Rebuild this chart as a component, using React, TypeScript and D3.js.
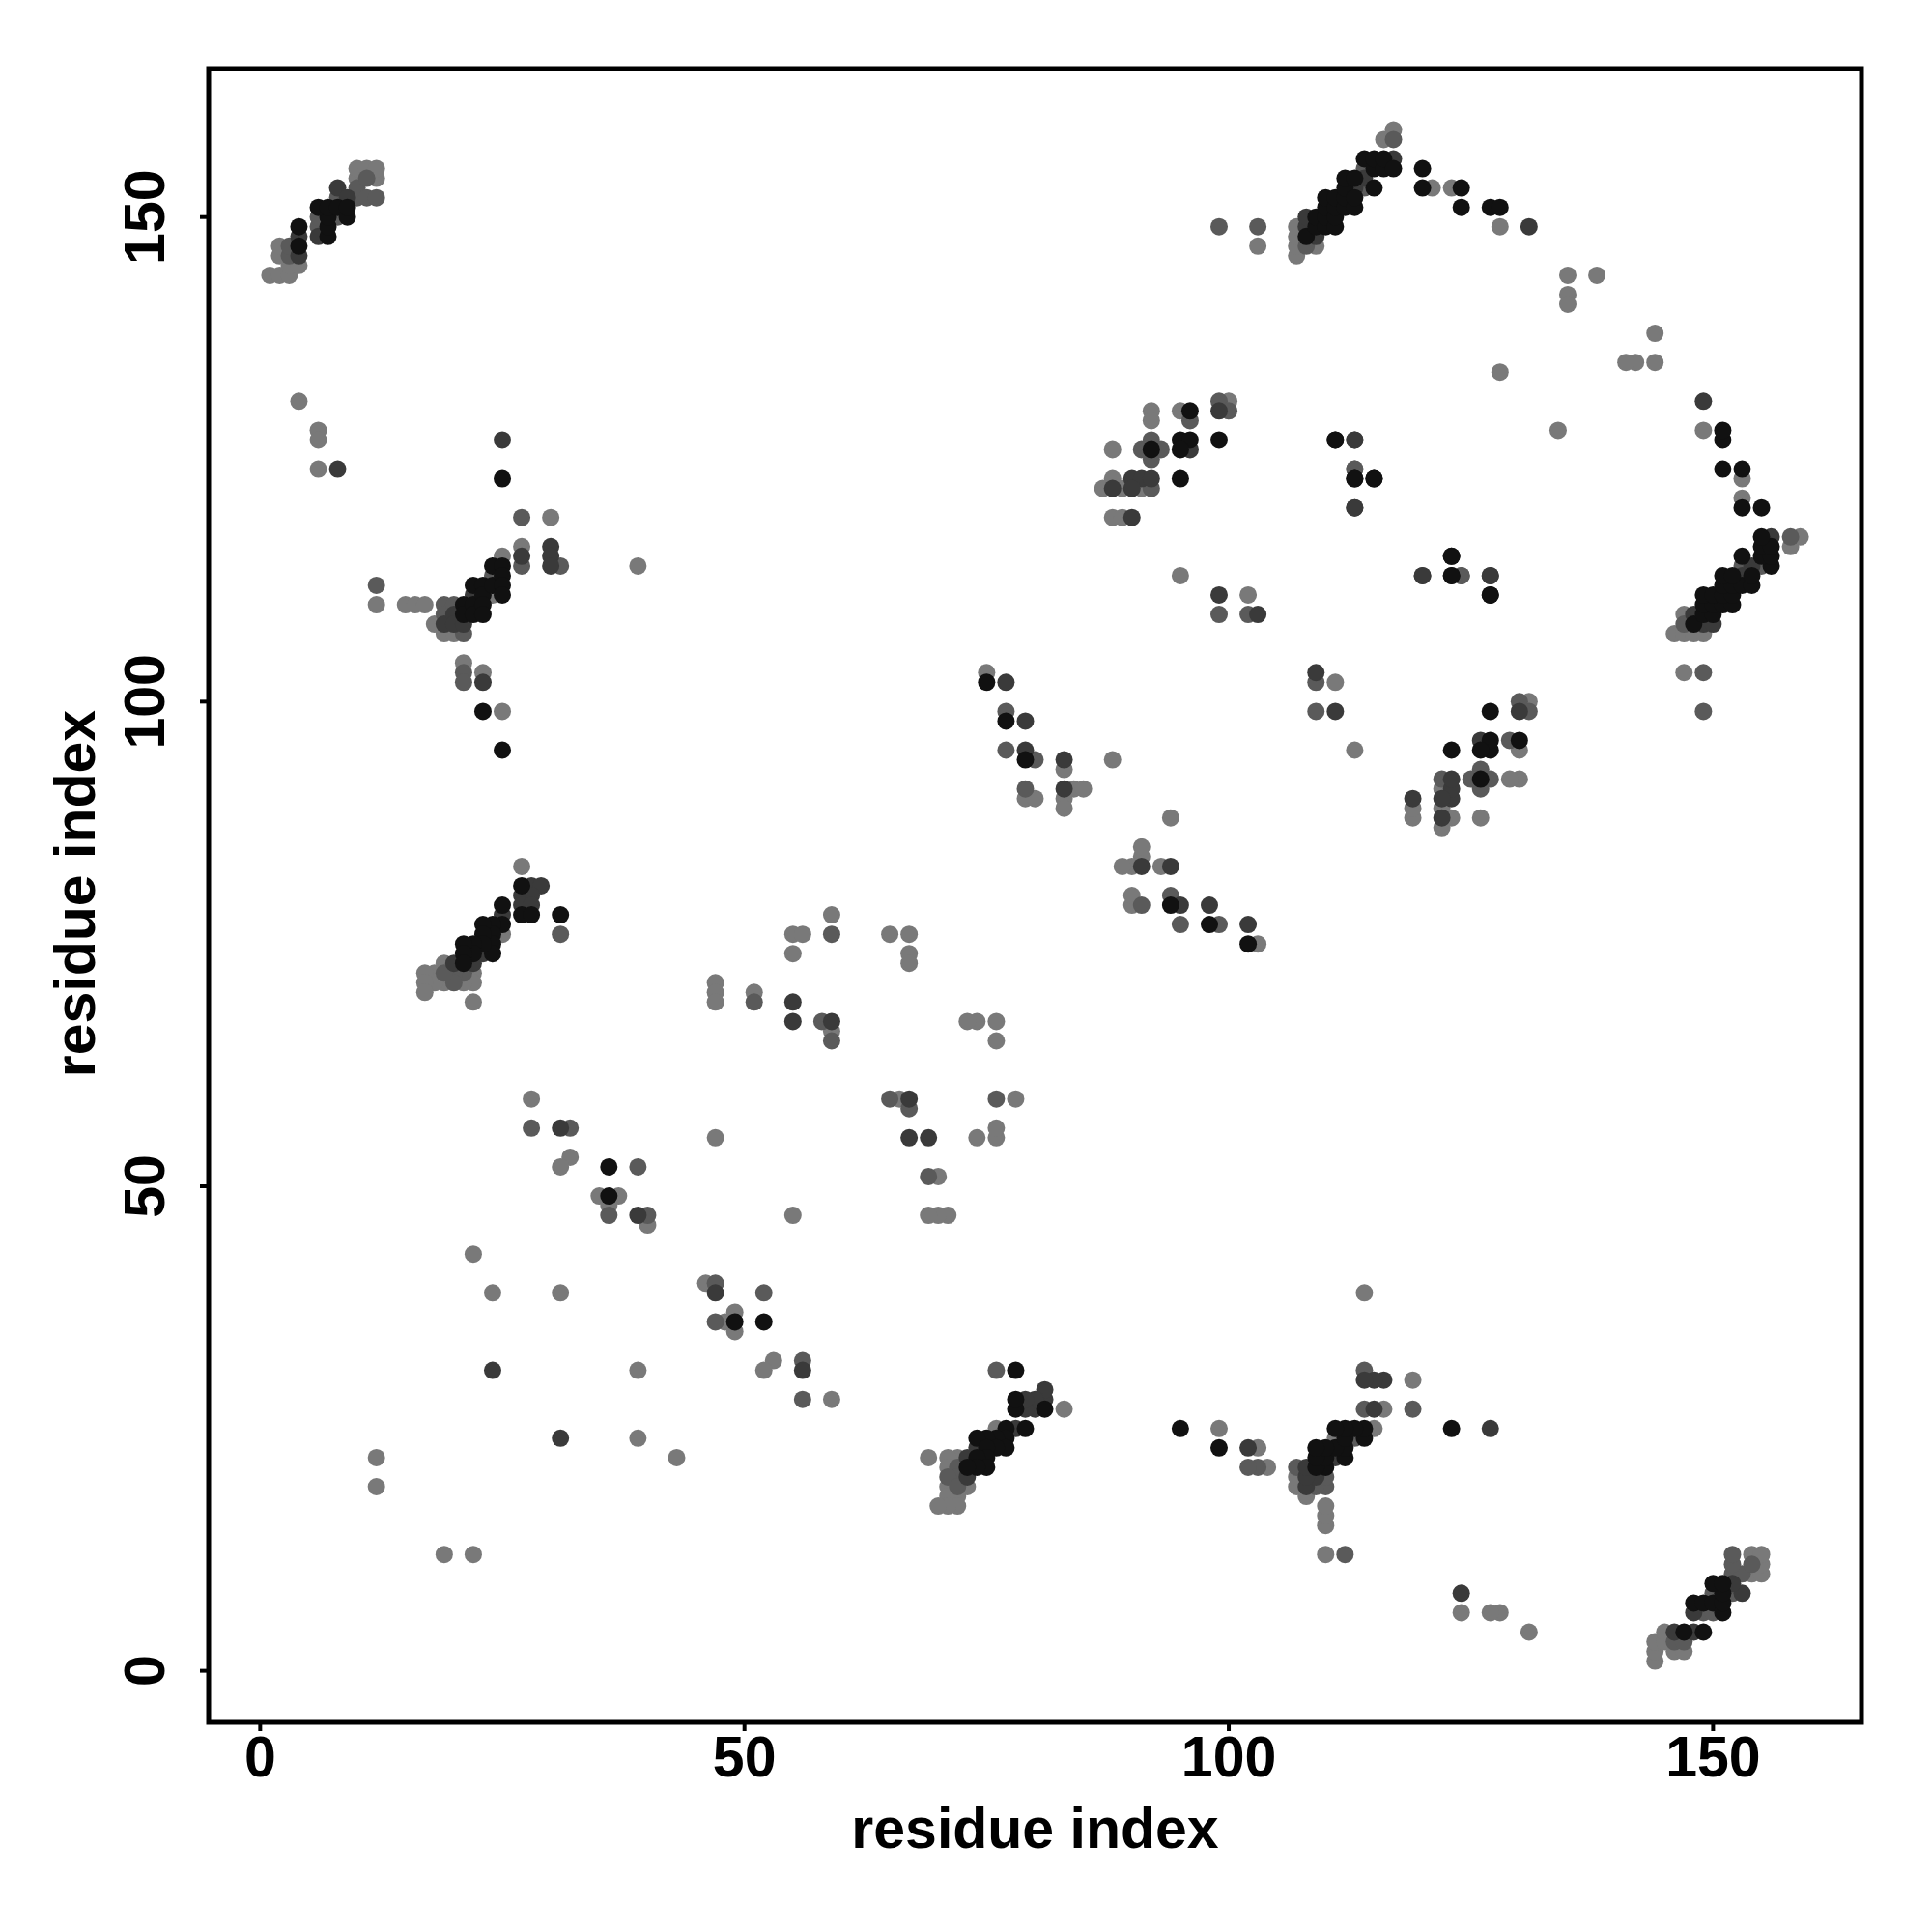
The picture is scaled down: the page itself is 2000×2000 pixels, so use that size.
import React from "react";
import * as d3 from "d3";

// Contact pairs [i, j, level] with i < j (the map is symmetric; level 1 = darkest)
const clusterTopLeft: [number, number, number][] = [
  [1,144,4],[2,144,4],[3,144,4],[3,145,4],[4,145,4],
  [2,146,4],[3,146,3],[4,146,2],[2,147,4],[3,147,3],[4,147,1],
  [4,148,2],[4,149,1],
  [6,148,2],[7,148,1],[6,149,3],[7,149,1],[6,150,3],[7,150,1],[6,151,1],[7,151,1],
  [8,150,3],[8,151,1],[8,152,3],[8,153,2],
  [9,150,1],[9,151,1],[9,152,2],
  [10,152,3],[10,153,3],[10,154,4],[10,155,4],
  [11,152,3],[11,154,3],[11,155,4],
  [12,152,3],[12,154,4],[12,155,4],
  [4,131,4],[6,128,4],[6,127,4],[6,124,4],[8,124,2],
];
const clusterB: [number, number, number][] = [
  [12,112,3],[12,110,4],[15,110,4],[16,110,4],[17,110,4],[18,108,4],
  [19,110,3],[19,109,3],[19,108,2],[19,107,4],
  [20,110,3],[20,109,2],[20,108,2],[20,107,4],
  [21,110,1],[21,109,1],[21,108,2],[21,107,3],
  [22,112,1],[22,111,2],[22,110,1],[22,109,1],
  [23,112,1],[23,111,1],[23,110,1],[23,109,1],
  [24,114,1],[24,113,3],[24,112,1],[24,111,4],
  [25,115,4],[25,114,1],[25,113,1],[25,112,1],[25,111,1],
  [21,104,4],[21,103,3],[21,102,3],[23,103,4],[23,102,2],
  [23,99,1],[25,99,4],[25,95,1],
  [27,119,3],[30,119,4],[27,116,4],[27,115,2],[27,114,3],
  [30,116,2],[30,115,2],[30,114,2],[31,114,3],[39,114,4],
  [25,127,2],[25,123,1],
];
const clusterC: [number, number, number][] = [
  [27,83,4],[27,81,1],[28,81,2],[29,81,2],[27,80,2],[28,80,2],[27,79,2],[28,79,2],
  [27,78,1],[28,78,1],[31,78,1],[31,76,3],
  [25,79,1],[25,78,2],[25,77,1],[25,76,4],
  [24,77,1],[24,76,1],[24,75,1],[24,74,1],
  [23,77,1],[23,76,1],[23,75,1],[23,74,2],
  [22,75,1],[22,74,1],[22,73,2],[22,72,4],[22,71,4],
  [21,75,1],[21,74,1],[21,73,1],[21,72,3],[21,71,4],
  [20,73,2],[20,72,3],[20,71,3],
  [19,73,4],[19,72,3],[19,71,4],
  [18,72,4],[18,71,4],[17,72,4],[17,71,4],[17,70,4],
  [22,69,4],
];
const clusterD: [number, number, number][] = [
  [28,59,4],[28,56,3],[31,56,2],[32,56,3],[32,53,4],[31,52,4],
  [36,52,1],[39,52,3],[35,49,4],[36,49,1],[37,49,4],[36,48,4],[36,47,3],
  [39,47,2],[40,47,3],[40,46,4],
  [12,22,4],[12,19,4],[22,43,4],[24,39,4],[24,31,2],[31,39,4],
];
const clusterE: [number, number, number][] = [
  [47,55,4],[47,71,4],[47,70,4],[47,69,4],[51,70,4],[51,69,3],
  [55,69,2],[55,67,2],[58,67,3],[59,67,2],[59,66,4],[59,65,3],
  [55,76,4],[56,76,4],[59,76,3],[59,78,4],[55,74,4],
  [65,76,4],[67,76,4],[67,74,4],[67,73,4],
];
const clusterF: [number, number, number][] = [
  [75,103,4],[75,102,1],[77,102,2],[77,99,3],[77,98,1],[79,98,2],
  [77,95,3],[79,95,2],[79,94,1],[80,94,3],[83,94,2],[83,93,4],[88,94,4],
  [79,91,3],[79,90,4],[80,90,4],[83,91,2],[84,91,4],[85,91,4],[83,90,4],[83,89,4],
];
const clusterG: [number, number, number][] = [
  [88,126,4],[92,130,4],[92,129,4],[95,130,4],[96,130,1],[96,129,3],
  [99,131,3],[100,131,4],[99,130,2],[100,130,3],[99,127,1],
  [92,127,3],[91,126,3],[92,126,1],[93,126,3],[92,125,3],
  [95,127,1],[96,127,1],[95,126,1],[96,126,2],[95,123,1],
  [88,123,4],[90,123,2],[91,123,2],[92,123,2],
  [87,122,4],[88,122,2],[89,122,4],[90,122,2],[91,122,4],[92,122,3],
  [88,119,4],[89,119,4],[90,119,2],
];
const clusterH: [number, number, number][] = [
  [111,127,1],[113,127,2],[113,124,3],[113,123,1],[115,123,1],[113,120,2],
  [95,113,4],[99,111,2],[102,111,4],[99,109,3],[102,109,3],[103,109,2],
  [120,113,2],[123,115,1],[123,113,1],[124,113,3],[127,113,2],[127,111,1],
];
const clusterTop: [number, number, number][] = [
  [107,146,4],[107,147,4],[107,148,4],[107,149,4],
  [108,147,3],[108,148,1],[108,149,2],[108,150,2],
  [109,147,4],[109,148,2],[109,149,1],[109,150,1],
  [110,149,1],[110,150,1],[110,151,1],[110,152,1],
  [111,149,1],[111,150,1],[111,151,1],[111,152,1],
  [112,151,1],[112,152,1],[112,153,1],[112,154,1],
  [113,151,1],[113,152,1],[113,153,2],[113,154,1],
  [114,153,3],[114,154,2],[114,155,3],[114,156,1],
  [115,153,1],[115,155,1],[115,156,1],
  [116,155,1],[116,156,1],[116,158,4],
  [117,155,1],[117,156,2],[117,158,3],[117,159,4],
  [99,149,3],[103,149,3],[103,147,4],
  [120,155,1],[120,153,1],[121,153,4],[123,153,4],[124,153,1],[124,151,1],
  [127,151,1],[128,151,1],[128,149,4],[131,149,2],
  [135,144,4],[138,144,4],[135,142,4],[135,141,4],[128,134,4],
];

const xTicks = [0, 50, 100, 150];
const yTicks = [0, 50, 100, 150];
const levelColors = ["#111111", "#3a3a3a", "#5a5a5a", "#797979"];
const axisTitle = "residue index";

export default function App() {
  const x = d3.scaleLinear().domain([-5.32, 165.32]).range([216, 1927]);
  const y = d3.scaleLinear().domain([-5.32, 165.32]).range([1783, 71]);
  const upper = [
    ...clusterTopLeft, ...clusterB, ...clusterC, ...clusterD, ...clusterE,
    ...clusterF, ...clusterG, ...clusterH, ...clusterTop,
  ];
  const pts: { px: number; py: number; lvl: number }[] = [];
  upper.forEach(([i, j, l]) => {
    pts.push({ px: i, py: j, lvl: l });
    pts.push({ px: j, py: i, lvl: l });
  });
  pts.sort((a, b) => b.lvl - a.lvl);
  const font = "'Liberation Sans', Arial, Helvetica, sans-serif";
  const [x0, x1] = x.range();
  const [y0, y1] = y.range();
  return (
    <svg width={2000} height={2000} style={{ position: "absolute", left: 0, top: 0, background: "#fff" }}>
      <rect x={0} y={0} width={2000} height={2000} fill="#fff" />
      {pts.map((p, k) => (
        <circle key={k} cx={x(p.px)} cy={y(p.py)} r={9} fill={levelColors[p.lvl - 1]} />
      ))}
      <rect x={x0} y={y1} width={x1 - x0} height={y0 - y1} fill="none" stroke="#000" strokeWidth={5} />
      {xTicks.map((t) => (
        <g key={"x" + t}>
          <line x1={x(t)} x2={x(t)} y1={y0} y2={y0 + 9} stroke="#000" strokeWidth={4} />
          <text x={x(t)} y={1839} textAnchor="middle" fontFamily={font} fontWeight="bold" fontSize={59}>{t}</text>
        </g>
      ))}
      {yTicks.map((t) => (
        <g key={"y" + t}>
          <line x1={x0} x2={x0 - 9} y1={y(t)} y2={y(t)} stroke="#000" strokeWidth={4} />
          <text transform={`translate(170,${y(t)}) rotate(-90)`} textAnchor="middle" fontFamily={font} fontWeight="bold" fontSize={59}>{t}</text>
        </g>
      ))}
      <text x={(x0 + x1) / 2} y={1913} textAnchor="middle" fontFamily={font} fontWeight="bold" fontSize={59}>{axisTitle}</text>
      <text transform={`translate(98,925) rotate(-90)`} textAnchor="middle" fontFamily={font} fontWeight="bold" fontSize={59}>{axisTitle}</text>
    </svg>
  );
}
